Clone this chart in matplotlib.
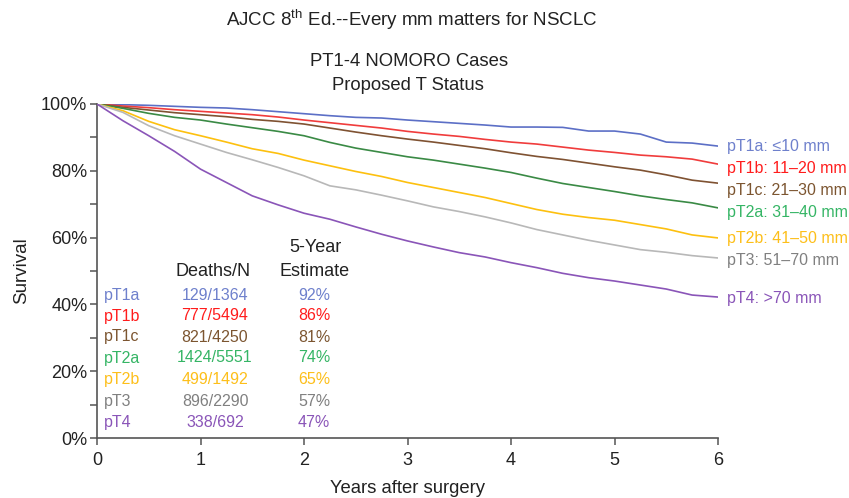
#!/usr/bin/env python3
"""Kaplan-Meier style survival curves by proposed T status (AJCC 8th ed.)."""

import matplotlib

matplotlib.use("Agg")
import matplotlib.pyplot as plt
from matplotlib.ticker import FuncFormatter, MultipleLocator

# years after surgery at which the curves were read
years = [0, 0.25, 0.5, 0.75, 1.0, 1.25, 1.5, 1.75, 2.0, 2.25, 2.5, 2.75, 3.0,
         3.25, 3.5, 3.75, 4.0, 4.25, 4.5, 4.75, 5.0, 5.25, 5.5, 5.75, 6.0]

surv_t1a = [100, 99.8, 99.6, 99.3, 99.0, 98.8, 98.3, 97.7, 97.1, 96.5, 96.0, 95.8, 95.2,
            94.7, 94.2, 93.7, 93.1, 93.1, 93.0, 91.9, 91.9, 91.0, 88.6, 88.3, 87.4]
surv_t1b = [100, 99.4, 98.9, 98.3, 97.8, 97.3, 96.8, 96.1, 95.2, 94.4, 93.6, 92.8, 91.8,
            91.0, 90.3, 89.4, 88.6, 88.0, 87.1, 86.2, 85.5, 84.7, 84.2, 83.5, 82.0]
surv_t1c = [100, 99.0, 98.2, 97.4, 96.8, 96.2, 95.4, 94.8, 94.0, 92.8, 91.6, 90.5, 89.5,
            88.6, 87.6, 86.6, 85.4, 84.3, 83.4, 82.3, 81.2, 80.2, 78.8, 77.2, 76.3]
surv_t2a = [100, 98.7, 97.2, 96.0, 95.2, 94.0, 92.9, 91.8, 90.5, 88.5, 86.8, 85.5, 84.2,
            83.2, 82.0, 80.8, 79.5, 77.8, 76.2, 75.0, 73.8, 72.5, 71.4, 70.4, 68.9]
surv_t2b = [100, 98.0, 94.8, 92.3, 90.5, 88.6, 86.6, 85.2, 83.2, 81.5, 79.8, 78.3, 76.5,
            75.0, 73.5, 72.0, 70.2, 68.4, 67.0, 66.0, 65.2, 63.9, 62.6, 60.8, 59.9]
surv_t3 = [100, 97.5, 93.5, 90.5, 88.0, 85.5, 83.3, 81.0, 78.5, 75.5, 74.3, 72.7, 71.0,
           69.2, 67.8, 66.2, 64.4, 62.4, 60.8, 59.2, 57.8, 56.4, 55.6, 54.6, 53.9]
surv_t4 = [100, 95.0, 90.5, 85.8, 80.5, 76.5, 72.5, 69.8, 67.3, 65.5, 63.2, 61.0, 59.0,
           57.2, 55.5, 54.2, 52.5, 51.0, 49.3, 48.0, 47.0, 45.8, 44.6, 42.8, 42.2]

groups = ["pT1a", "pT1b", "pT1c", "pT2a", "pT2b", "pT3", "pT4"]
size_labels = ["pT1a: \u226410 mm", "pT1b: 11\u201320 mm", "pT1c: 21\u201330 mm",
               "pT2a: 31\u201340 mm", "pT2b: 41\u201350 mm", "pT3: 51\u201370 mm", "pT4: >70 mm"]
deaths_n = ["129/1364", "777/5494", "821/4250", "1424/5551", "499/1492", "896/2290", "338/692"]
five_year = ["92%", "86%", "81%", "74%", "65%", "57%", "47%"]

curves = [surv_t1a, surv_t1b, surv_t1c, surv_t2a, surv_t2b, surv_t3, surv_t4]
line_colors = ["#5c6fc6", "#f03c3c", "#7f5232", "#3a8a45", "#fdc00f", "#b8b8b8", "#8a55b8"]
text_colors = ["#6e80cc", "#ff1c1c", "#7c5530", "#35b565", "#fdbf1a", "#808080", "#8a55b8"]

plt.rcParams["font.family"] = ["Liberation Sans", "DejaVu Sans"]
INK = "#222222"

fig = plt.figure(figsize=(8.49, 4.98), dpi=100)
ax = fig.add_axes([97 / 849, 60 / 498, 621 / 849, 334 / 498])

for surv, col in zip(curves, line_colors):
    ax.plot(years, surv, color=col, linewidth=1.2, zorder=3)

ax.set_xlim(0, 6)
ax.set_ylim(0, 100)
ax.set_xticks(range(7))
ax.yaxis.set_major_locator(MultipleLocator(20))
ax.yaxis.set_minor_locator(MultipleLocator(10))
ax.yaxis.set_major_formatter(FuncFormatter(lambda v, _: "%d%%" % round(v)))
for s in ("top", "right"):
    ax.spines[s].set_visible(False)
for s in ("left", "bottom"):
    ax.spines[s].set_color("#555555")
    ax.spines[s].set_linewidth(1.2)
ax.tick_params(which="both", direction="out", length=5, width=1.1, color="#555555")
ax.tick_params(axis="y", labelsize=13, pad=2, labelcolor=INK)
ax.tick_params(axis="x", labelsize=13, pad=5, labelcolor=INK)

ax.set_ylabel("Survival", fontsize=13.5, color=INK, labelpad=8)
ax.set_xlabel("Years after surgery", fontsize=13.3, color=INK, labelpad=8)

# titles
fig.text(412 / 849, 1 - 20 / 498, r"AJCC 8$^{\mathregular{th}}$ Ed.--Every mm matters for NSCLC",
         ha="center", va="center", fontsize=13.5, color=INK)
fig.text(409 / 849, 1 - 61 / 498, "PT1-4 NOMORO Cases", ha="center", va="center",
         fontsize=13.3, color=INK)
fig.text(408 / 849, 1 - 85 / 498, "Proposed T Status", ha="center", va="center",
         fontsize=13.3, color=INK)

# right-hand curve labels
label_y = [146, 169, 191, 213, 238, 261, 298]
for name, yp, col in zip(size_labels, label_y, text_colors):
    fig.text(727 / 849, 1 - yp / 498, name, ha="left", va="center", fontsize=11.5, color=col)

# inset table
fig.text(315 / 849, 1 - 247 / 498, "5-Year", ha="center", va="center", fontsize=13, color=INK)
fig.text(213 / 849, 1 - 272 / 498, "Deaths/N", ha="center", va="center", fontsize=13, color=INK)
fig.text(315 / 849, 1 - 272 / 498, "Estimate", ha="center", va="center", fontsize=13, color=INK)
row_y = [295, 316, 337, 358, 379, 401, 422]
for g, dn, fy, yp, col in zip(groups, deaths_n, five_year, row_y, text_colors):
    fig.text(104 / 849, 1 - yp / 498, g, ha="left", va="center", fontsize=11.5, color=col)
    fig.text(215 / 849, 1 - yp / 498, dn, ha="center", va="center", fontsize=11.5, color=col)
    fig.text(314 / 849, 1 - yp / 498, fy, ha="center", va="center", fontsize=11.5, color=col)

fig.savefig("out.png", dpi=100)
